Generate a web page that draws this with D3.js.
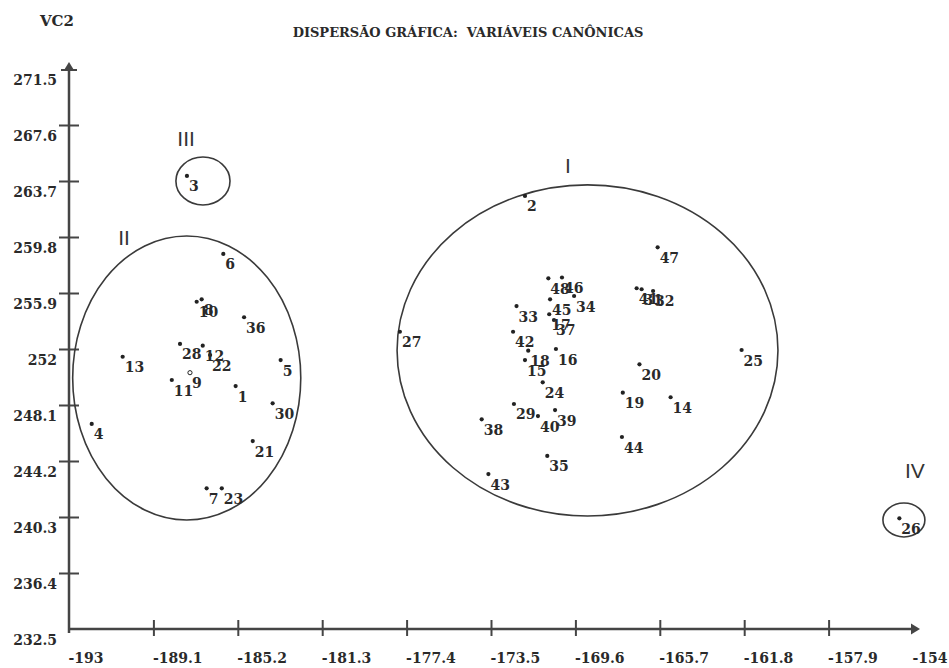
<!DOCTYPE html>
<html>
<head>
<meta charset="utf-8">
<script src="https://cdn.jsdelivr.net/npm/d3@7"></script>
<style>
  html, body { margin: 0; padding: 0; background: #fff; }
  svg { display: block; }
  text { font-family: "DejaVu Serif", serif; font-weight: bold; fill: #2a2a2a; }
</style>
</head>
<body>
<svg id="chart" width="949" height="668"></svg>
<script>
// ---- data ----
const title = "DISPERSÃO GRÁFICA:  VARIÁVEIS CANÔNICAS";
const yTitle = "VC2";
const xTicks = [-193, -189.1, -185.2, -181.3, -177.4, -173.5, -169.6, -165.7, -161.8, -157.9, -154];
const yTicks = [232.5, 236.4, 240.3, 244.2, 248.1, 252, 255.9, 259.8, 263.7, 267.6, 271.5];

const pointLabels = ["1","2","3","4","5","6","7","8","9","10","11","12","13","14","15","16","17","18","19","20",
  "21","22","23","24","25","26","27","28","29","30","31","32","33","34","35","36","37","38","39","40",
  "41","42","43","44","45","46","47","48"];
const vc1 = [-185.30,-171.93,-187.55,-191.95,-183.22,-185.87,-186.64,-186.87,-187.41,-187.10,
  -188.25,-186.82,-190.52,-165.20,-171.93,-170.50,-170.81,-171.78,-167.41,-166.64,
  -184.51,-186.48,-185.94,-171.11,-161.92,-154.63,-177.71,-187.87,-172.44,-183.59,
  -166.54,-166.01,-172.32,-169.66,-170.90,-184.91,-170.59,-173.93,-170.54,-171.33,
  -166.77,-172.48,-173.62,-167.45,-170.77,-170.22,-165.80,-170.85];
const vc2 = [249.42,262.66,264.05,246.78,251.23,258.62,242.30,255.46,250.35,255.29,
  249.84,252.23,251.46,248.64,251.23,252.00,254.42,251.88,248.96,250.93,
  245.59,251.58,242.30,249.68,251.93,240.21,253.20,252.35,248.17,248.22,
  256.16,256.04,254.99,255.69,244.55,254.21,254.02,247.10,247.75,247.33,
  256.23,253.20,243.29,245.87,255.46,256.98,259.08,256.92];

const clusterNames = ["I", "II", "III", "IV"];
const clusterCX = [-169.04, -187.56, -186.81, -154.42];
const clusterCY = [251.90, 249.98, 263.70, 240.09];
const clusterRX = [8.80, 5.27, 1.25, 0.97];
const clusterRY = [11.53, 9.89, 1.67, 1.18];
const clusterLabelX = [-169.94, -190.46, -187.59, -153.91];
const clusterLabelY = [264.81, 259.80, 266.69, 243.57];

// ---- chart ----
const svg = d3.select("#chart");
const x = d3.scaleLinear().domain([-193, -154]).range([69, 913]);
const y = d3.scaleLinear().domain([232.5, 271.5]).range([629, 69]);
const axisColor = "#454545";

svg.append("text").attr("x", 468).attr("y", 37).attr("text-anchor", "middle")
  .style("font-size", "13px").style("white-space", "pre").text(title);
svg.append("text").attr("x", 57).attr("y", 26).attr("text-anchor", "middle")
  .style("font-size", "15px").text(yTitle);

// x axis
const gx = svg.append("g").attr("transform", `translate(0,${y(232.5)})`)
  .call(d3.axisBottom(x).tickValues(xTicks).tickSizeOuter(0).tickFormat(d => String(d)));
gx.select(".domain").attr("stroke", axisColor).attr("stroke-width", 2.5).attr("d", `M${x(-193)},0H${x(-154)}`);
gx.selectAll(".tick line").attr("stroke", axisColor).attr("stroke-width", 2)
  .attr("y1", -9).attr("y2", 7).attr("display", (d, i) => (i === 0 || i === xTicks.length - 1) ? "none" : null);
gx.selectAll(".tick text").attr("x", -1).attr("y", 34).attr("dy", 0).attr("text-anchor", "start")
  .style("font-size", "14px").style("font-family", "DejaVu Serif").style("font-weight", "bold").attr("fill", "#2a2a2a");

// y axis
const gy = svg.append("g").attr("transform", `translate(${x(-193)},0)`)
  .call(d3.axisLeft(y).tickValues(yTicks).tickSizeOuter(0).tickFormat(d => String(d)));
gy.select(".domain").attr("stroke", axisColor).attr("stroke-width", 2.5).attr("d", `M0,${y(232.5) + 4}V${y(271.5)}`);
gy.selectAll(".tick line").attr("stroke", axisColor).attr("stroke-width", 2)
  .attr("x1", -10).attr("x2", 10).attr("display", (d, i) => (i === 0 || i === yTicks.length - 1) ? "none" : null);
gy.selectAll(".tick text").attr("x", -12).attr("y", 15).attr("dy", 0).attr("text-anchor", "end")
  .style("font-size", "14px").style("font-family", "DejaVu Serif").style("font-weight", "bold").attr("fill", "#2a2a2a");

// arrows
svg.append("path").attr("fill", axisColor)
  .attr("d", `M${x(-154) + 7},${y(232.5)} L${x(-154) - 2},${y(232.5) - 5.5} L${x(-154) - 2},${y(232.5) + 5.5} Z`);
svg.append("path").attr("fill", axisColor)
  .attr("d", `M${x(-193)},${y(271.5) - 7} L${x(-193) - 5.5},${y(271.5) + 2} L${x(-193) + 5.5},${y(271.5) + 2} Z`);
svg.append("line").attr("stroke", axisColor).attr("stroke-width", 2)
  .attr("x1", x(-193) - 8).attr("x2", x(-193) + 8).attr("y1", y(271.5) + 1).attr("y2", y(271.5) + 1);

// cluster ellipses
const clusters = clusterNames.map((n, i) => ({ n, cx: clusterCX[i], cy: clusterCY[i], rx: clusterRX[i], ry: clusterRY[i], lx: clusterLabelX[i], ly: clusterLabelY[i] }));
svg.append("g").selectAll("ellipse").data(clusters).join("ellipse")
  .attr("cx", d => x(d.cx)).attr("cy", d => y(d.cy))
  .attr("rx", d => x(d.cx + d.rx) - x(d.cx)).attr("ry", d => y(d.cy) - y(d.cy + d.ry))
  .attr("fill", "none").attr("stroke", "#3a3a3a").attr("stroke-width", 1.6);
svg.append("g").selectAll("text").data(clusters).join("text")
  .attr("x", d => x(d.lx)).attr("y", d => y(d.ly)).attr("text-anchor", "middle").attr("dominant-baseline", "central")
  .style("font-family", "'Liberation Sans', Arial, sans-serif").style("font-weight", "normal")
  .style("font-size", "21px").style("fill", "#333").text(d => d.n);

// points
const pts = pointLabels.map((l, i) => ({ l, vx: vc1[i], vy: vc2[i] }));
const gp = svg.append("g");
gp.selectAll("circle").data(pts).join("circle")
  .attr("cx", d => x(d.vx)).attr("cy", d => y(d.vy)).attr("r", 2.1)
  .attr("fill", d => d.l === "9" ? "none" : "#222").attr("stroke", d => d.l === "9" ? "#222" : "none").attr("stroke-width", 1);
gp.selectAll("text").data(pts).join("text")
  .attr("x", d => x(d.vx) + 2).attr("y", d => y(d.vy) + 15.5)
  .style("font-size", "14px").text(d => d.l);
</script>
</body>
</html>
